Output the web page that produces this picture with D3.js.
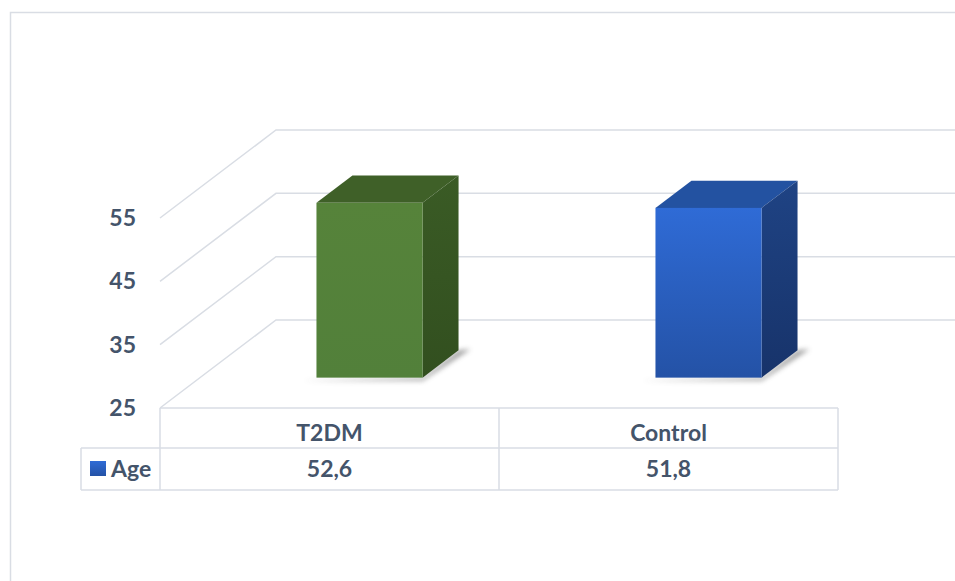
<!DOCTYPE html>
<html>
<head>
<meta charset="utf-8">
<script src="https://cdn.jsdelivr.net/npm/d3@7"></script>
<style>
  html, body { margin: 0; padding: 0; background: #fff; }
  svg { display: block; }
  text { font-family: Lato, "Open Sans", sans-serif; font-weight: 700; fill: #44546a; }
</style>
</head>
<body>
<svg id="chart" width="955" height="581"></svg>
<script>
// Data
const categories = ["T2DM", "Control"];
const seriesName = "Age";
const ageValues = [52.6, 51.8];
const yTicks = [25, 35, 45, 55];
const barColors = {
  T2DM:    { front: ["#56833a", "#52803a"], top: "#3f6028", side: ["#3a5b25", "#324f1f"] },
  Control: { front: ["#2f6bd6", "#2452a6"], top: "#2352a1", side: ["#1f4384", "#17336a"] }
};

const svg = d3.select("#chart");
const gridColor = "#d9dde4";
const fontSize = 23;

// Decimal comma formatting for the table values
const locale = d3.formatLocale({ decimal: ",", thousands: ".", grouping: [3], currency: ["", ""] });
const fmt = locale.format(".1f");

// Layout of the oblique 3D plot
const plotLeft = 160, plotRight = 838;
const DX = 116, DY = 88;           // floor depth offset
const f0 = 0.345, f1 = 0.655;      // bar depth span on the floor
const barFrac = 0.313;             // bar width as share of band

const y = d3.scaleLinear().domain([25, 55]).range([408, 218]);
const x = d3.scaleBand().domain(categories).range([plotLeft, plotRight]);

const proj = (px, v, f) => [px + f * DX, y(v) - f * DY];

// Chart area border
svg.append("rect")
  .attr("x", 10.5).attr("y", 12.5).attr("width", 1000).attr("height", 1000)
  .attr("fill", "none").attr("stroke", gridColor).attr("stroke-width", 1.5);

const defs = svg.append("defs");
defs.append("filter").attr("id", "shadowBlur")
  .attr("x", "-20%").attr("y", "-50%").attr("width", "140%").attr("height", "200%")
  .append("feGaussianBlur").attr("stdDeviation", 2.5);

categories.forEach((c, i) => {
  const col = barColors[c];
  const gf = defs.append("linearGradient").attr("id", "front" + i)
    .attr("x1", 0).attr("y1", 0).attr("x2", 0).attr("y2", 1);
  gf.append("stop").attr("offset", 0).attr("stop-color", col.front[0]);
  gf.append("stop").attr("offset", 1).attr("stop-color", col.front[1]);
  const gs = defs.append("linearGradient").attr("id", "side" + i)
    .attr("x1", 0).attr("y1", 0).attr("x2", 0).attr("y2", 1);
  gs.append("stop").attr("offset", 0).attr("stop-color", col.side[0]);
  gs.append("stop").attr("offset", 1).attr("stop-color", col.side[1]);
});
const lg = defs.append("linearGradient").attr("id", "legendKey")
  .attr("x1", 0).attr("y1", 0).attr("x2", 0).attr("y2", 1);
lg.append("stop").attr("offset", 0).attr("stop-color", "#2f6bd6");
lg.append("stop").attr("offset", 1).attr("stop-color", "#2452a6");

// Gridlines: diagonal along the side wall, then flat along the back wall
const line = d3.line();
svg.append("g").selectAll("path")
  .data(yTicks)
  .join("path")
  .attr("d", t => line([proj(plotLeft, t, 0), proj(plotLeft, t, 1), [960, y(t) - DY]]))
  .attr("fill", "none").attr("stroke", gridColor).attr("stroke-width", 1.5);

// Value axis labels
svg.append("g").selectAll("text")
  .data(yTicks)
  .join("text")
  .attr("x", 136).attr("y", t => y(t) + 8)
  .attr("text-anchor", "end").attr("font-size", fontSize)
  .text(d => d);

// Bars
const bars = svg.append("g");
categories.forEach((c, i) => {
  const v = ageValues[i];
  const cx = x(c) + x.bandwidth() / 2;
  const hw = x.bandwidth() * barFrac / 2;
  const xl = cx - hw, xr = cx + hw;
  const base = y.domain()[0];

  // soft contact shadow beneath the footprint
  const a = proj(xl, base, f0), b = proj(xr, base, f0), d = proj(xr, base, f1);
  bars.append("path")
    .attr("d", line([[a[0] - 14, a[1] + 3], [b[0], b[1] + 3], [d[0] + 12, d[1] - 1], [d[0], d[1]], b]) + "Z")
    .attr("fill", "#555").attr("opacity", 0.55).attr("filter", "url(#shadowBlur)");

  // top face
  bars.append("path")
    .attr("d", line([proj(xl, v, f0), proj(xr, v, f0), proj(xr, v, f1), proj(xl, v, f1)]) + "Z")
    .attr("fill", barColors[c].top);
  // side face
  bars.append("path")
    .attr("d", line([proj(xr, v, f0), proj(xr, v, f1), proj(xr, base, f1), proj(xr, base, f0)]) + "Z")
    .attr("fill", `url(#side${i})`);
  // front face
  const p0 = proj(xl, v, f0), p1 = proj(xr, base, f0);
  bars.append("rect")
    .attr("x", p0[0]).attr("y", p0[1])
    .attr("width", p1[0] - p0[0]).attr("height", p1[1] - p0[1])
    .attr("fill", `url(#front${i})`);
});

// Data table below the plot
const headTop = y(25), rowTop = 448, rowBottom = 490, legendLeft = 81;
const tbl = svg.append("g").attr("stroke", gridColor).attr("stroke-width", 1.5);
tbl.append("line").attr("x1", plotLeft).attr("x2", plotRight).attr("y1", headTop).attr("y2", headTop);
tbl.append("line").attr("x1", legendLeft).attr("x2", plotRight).attr("y1", rowTop).attr("y2", rowTop);
tbl.append("line").attr("x1", legendLeft).attr("x2", plotRight).attr("y1", rowBottom).attr("y2", rowBottom);
tbl.append("line").attr("x1", legendLeft).attr("x2", legendLeft).attr("y1", rowTop).attr("y2", rowBottom);
[plotLeft, ...categories.map(c => x(c) + x.bandwidth())].forEach(px => {
  tbl.append("line").attr("x1", px).attr("x2", px).attr("y1", headTop).attr("y2", rowBottom);
});

svg.append("g").selectAll("text")
  .data(categories)
  .join("text")
  .attr("x", c => x(c) + x.bandwidth() / 2).attr("y", 441)
  .attr("text-anchor", "middle").attr("font-size", fontSize)
  .text(c => c);

svg.append("g").selectAll("text")
  .data(ageValues)
  .join("text")
  .attr("x", (d, i) => x(categories[i]) + x.bandwidth() / 2).attr("y", 477)
  .attr("text-anchor", "middle").attr("font-size", fontSize)
  .text(d => fmt(d));

// Legend key in the table
svg.append("rect").attr("x", 90).attr("y", 461).attr("width", 16).attr("height", 15)
  .attr("fill", "url(#legendKey)");
svg.append("text").attr("x", 111).attr("y", 477).attr("font-size", fontSize).text(seriesName);
</script>
</body>
</html>
